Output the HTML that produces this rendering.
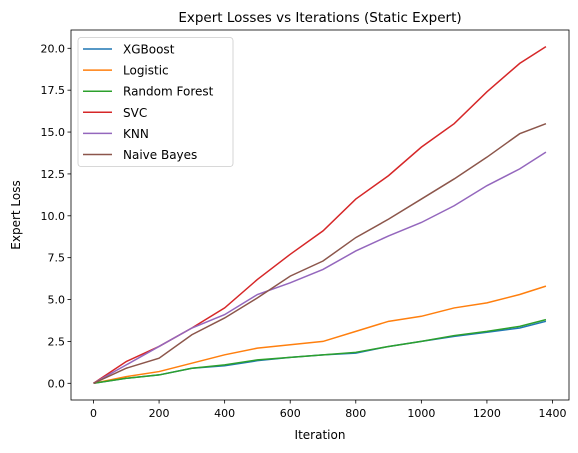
<!DOCTYPE html>
<html><head><meta charset="utf-8"><style>body{margin:0;background:#fff}svg{display:block}text{font-family:"DejaVu Sans","Liberation Sans",sans-serif;fill:#000}</style></head>
<body>
<svg id="c" width="578" height="453"></svg>
<script>
const iterations=[0,100,200,300,400,500,600,700,800,900,1000,1100,1200,1300,1380];
const seriesNames=["XGBoost","Logistic","Random Forest","SVC","KNN","Naive Bayes"];
const colors=["#1f77b4","#ff7f0e","#2ca02c","#d62728","#9467bd","#8c564b"];
const xgboost=[0,0.3,0.5,0.9,1.05,1.35,1.55,1.7,1.8,2.2,2.5,2.8,3.05,3.3,3.7];
const logistic=[0,0.4,0.7,1.2,1.7,2.1,2.3,2.5,3.1,3.7,4.0,4.5,4.8,5.3,5.8];
const randomForest=[0,0.3,0.5,0.9,1.1,1.4,1.55,1.7,1.85,2.2,2.5,2.85,3.1,3.4,3.8];
const svc=[0,1.3,2.2,3.3,4.5,6.2,7.7,9.1,11.0,12.4,14.1,15.5,17.4,19.1,20.1];
const knn=[0,1.1,2.2,3.3,4.1,5.3,6.0,6.8,7.9,8.8,9.6,10.6,11.8,12.8,13.8];
const naiveBayes=[0,0.9,1.5,2.9,3.9,5.1,6.4,7.3,8.7,9.8,11.0,12.2,13.5,14.9,15.5];
const xTicks=[0,200,400,600,800,1000,1200,1400];
const yTicks=[0,2.5,5,7.5,10,12.5,15,17.5,20];
const allSeries=[xgboost,logistic,randomForest,svc,knn,naiveBayes];
const L=71,R=569,T=30,B=400;
const X=v=>93.5+(v/1400)*(552.5-93.5);
const Y=v=>383.3-(v/20)*(383.3-48.3);
const svg=document.getElementById('c');const NS='http://www.w3.org/2000/svg';
function mk(t,a,p){const e=document.createElementNS(NS,t);for(const k in a)e.setAttribute(k,a[k]);(p||svg).appendChild(e);return e;}
let t=mk('text',{x:320,y:22,'font-size':13.5,'text-anchor':'middle'});t.textContent='Expert Losses vs Iterations (Static Expert)';


allSeries.forEach((s,i)=>{const p=mk('polyline',{points:s.map((v,j)=>X(iterations[j])+','+Y(v)).join(' '),fill:'none',stroke:colors[i],'stroke-width':1.5});

});
let f=mk('rect',{x:L,y:T,width:R-L,height:B-T,fill:'none',stroke:'#000','stroke-width':0.8});


xTicks.forEach(v=>{mk('line',{x1:X(v),x2:X(v),y1:B,y2:B+3.5,stroke:'#000','stroke-width':0.8});const e=mk('text',{x:X(v),y:B+17,'font-size':11,'text-anchor':'middle'});e.textContent=v;

});
yTicks.forEach(v=>{mk('line',{x1:L-3.5,x2:L,y1:Y(v),y2:Y(v),stroke:'#000','stroke-width':0.8});const e=mk('text',{x:L-6,y:Y(v)+4,'font-size':11,'text-anchor':'end'});e.textContent=v.toFixed(1);

});
let xl=mk('text',{x:320,y:439,'font-size':12,'text-anchor':'middle'});xl.textContent='Iteration';


let yl=mk('text',{x:0,y:0,'font-size':12,'text-anchor':'middle',transform:'translate(20,215) rotate(-90)'});yl.textContent='Expert Loss';


const lg=mk('g',{});


mk('rect',{x:78,y:37.5,width:155,height:129,rx:3,fill:'#fff','fill-opacity':0.8,stroke:'#ccc','stroke-width':0.8},lg);
seriesNames.forEach((n,i)=>{const y=49+i*21.1;mk('line',{x1:83,x2:112,y1:y,y2:y,stroke:colors[i],'stroke-width':1.5},lg);const e=mk('text',{x:123,y:y+4.5,'font-size':12},lg);e.textContent=n;

});
</script>
</body></html>
